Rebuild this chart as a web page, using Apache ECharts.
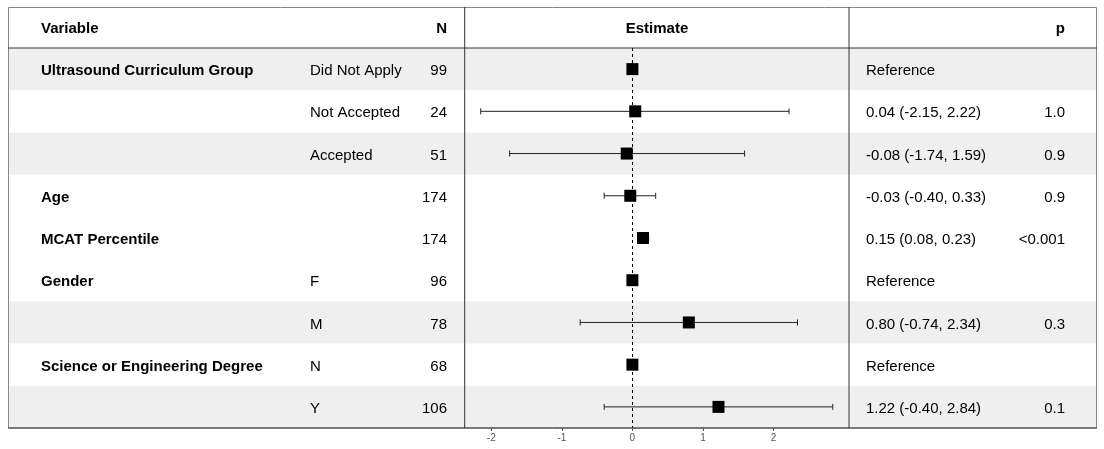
<!DOCTYPE html>
<html>
<head>
<meta charset="utf-8">
<script src="https://cdn.jsdelivr.net/npm/echarts@6/dist/echarts.min.js"></script>
<style>html,body{margin:0;padding:0;background:#fff}#c{width:1104px;height:449px}</style>
</head>
<body>
<div id="c"></div>
<script>
// table data
const variables = ['Ultrasound Curriculum Group', '', '', 'Age', 'MCAT Percentile', 'Gender', '', 'Science or Engineering Degree', '']
const levels = ['Did Not Apply', 'Not Accepted', 'Accepted', '', '', 'F', 'M', 'N', 'Y']
const counts = [99, 24, 51, 174, 174, 96, 78, 68, 106]
const estimates = [0, 0.04, -0.08, -0.03, 0.15, 0, 0.80, 0, 1.22]
const lows = [null, -2.15, -1.74, -0.40, 0.08, null, -0.74, null, -0.40]
const highs = [null, 2.22, 1.59, 0.33, 0.23, null, 2.34, null, 2.84]
const estText = ['Reference', '0.04 (-2.15, 2.22)', '-0.08 (-1.74, 1.59)', '-0.03 (-0.40, 0.33)', '0.15 (0.08, 0.23)', 'Reference', '0.80 (-0.74, 2.34)', 'Reference', '1.22 (-0.40, 2.84)']
const pvals = ['', '1.0', '0.9', '0.9', '<0.001', '', '0.3', '', '0.1']
const striped = [1, 0, 1, 0, 0, 0, 1, 0, 1]
const tickValues = [-2, -1, 0, 1, 2]

const rows = counts.map((_, i) => i)
const W = 1089
const font = 'Arial, "Liberation Sans", sans-serif'

function textSeries(xPos, texts, side, bold) {
  return {
    type: 'scatter', xAxisIndex: 1, yAxisIndex: 1, symbolSize: 0, silent: true, z: 5,
    itemStyle: { opacity: 1 },
    data: texts.map((t, i) => ({ value: [xPos, i], name: String(t) })),
    label: {
      show: true, position: side, distance: 0, offset: [0, 2], formatter: p => p.name,
      color: '#000', opacity: 1, fontSize: 15, fontFamily: font, fontWeight: bold ? 'bold' : 'normal'
    }
  }
}

const chart = echarts.init(document.getElementById('c'))
chart.setOption({
  animation: false,
  grid: [
    { left: 464.7, width: 384.3, top: 48, bottom: 21 },
    { left: 8, right: 7, top: 48, bottom: 21 }
  ],
  xAxis: [
    {
      type: 'value', gridIndex: 0, min: -2.377, max: 3.07,
      splitLine: { show: false },
      axisLine: { show: false },
      axisTick: { show: true, customValues: tickValues, length: 3, lineStyle: { color: '#555' } },
      axisLabel: { customValues: tickValues, fontSize: 10, color: '#555', fontFamily: font, margin: 5 }
    },
    { type: 'value', gridIndex: 1, min: 0, max: W, show: false }
  ],
  yAxis: [
    { type: 'category', gridIndex: 0, data: rows, inverse: true, show: false },
    { type: 'category', gridIndex: 1, data: rows, inverse: true, show: false }
  ],
  series: [
    {
      type: 'bar', xAxisIndex: 1, yAxisIndex: 1, barWidth: '100%', silent: true, z: 0,
      data: rows.map(i => ({ value: W, itemStyle: { color: striped[i] ? '#efefef' : 'rgba(0,0,0,0)' } }))
    },
    {
      type: 'custom', xAxisIndex: 0, yAxisIndex: 0, z: 3,
      data: rows.filter(i => lows[i] !== null).map(i => [lows[i], highs[i], i]),
      renderItem: (params, api) => {
        const a = api.coord([api.value(0), api.value(2)])
        const b = api.coord([api.value(1), api.value(2)])
        const st = { stroke: '#222', lineWidth: 1 }
        return {
          type: 'group', children: [
            { type: 'line', shape: { x1: a[0], y1: a[1], x2: b[0], y2: b[1] }, style: st },
            { type: 'line', shape: { x1: a[0], y1: a[1] - 3, x2: a[0], y2: a[1] + 3 }, style: st },
            { type: 'line', shape: { x1: b[0], y1: b[1] - 3, x2: b[0], y2: b[1] + 3 }, style: st }
          ]
        }
      }
    },
    {
      type: 'scatter', xAxisIndex: 0, yAxisIndex: 0, symbol: 'rect', symbolSize: 12, z: 4,
      itemStyle: { color: '#000', opacity: 1 },
      data: rows.map(i => [estimates[i], i]),
      markLine: {
        silent: true, symbol: 'none', label: { show: false },
        lineStyle: { color: '#000', type: [3, 3], width: 1, opacity: 1 },
        data: [{ xAxis: 0 }]
      }
    },
    textSeries(41 - 8, variables, 'right', true),
    textSeries(310 - 8, levels, 'right', false),
    textSeries(447 - 8, counts, 'left', false),
    textSeries(866 - 8, estText, 'right', false),
    textSeries(1065 - 8, pvals, 'left', false)
  ],
  graphic: [
    { type: 'rect', shape: { x: 8.5, y: 7.5, width: 1088, height: 420.5 }, style: { fill: 'none', stroke: '#888', lineWidth: 1 }, z: 10 },
    { type: 'line', shape: { x1: 8, y1: 48, x2: 1097, y2: 48 }, style: { stroke: '#333', lineWidth: 1 }, z: 10 },
    { type: 'line', shape: { x1: 464.7, y1: 7, x2: 464.7, y2: 428 }, style: { stroke: '#333', lineWidth: 1 }, z: 10 },
    { type: 'line', shape: { x1: 849, y1: 7, x2: 849, y2: 428 }, style: { stroke: '#333', lineWidth: 1 }, z: 10 },
    { type: 'line', shape: { x1: 8, y1: 428, x2: 1097, y2: 428 }, style: { stroke: '#333', lineWidth: 1 }, z: 10 },
    { type: 'text', x: 41, y: 29, style: { text: 'Variable', font: 'bold 15px ' + font, fill: '#000', textVerticalAlign: 'middle' } },
    { type: 'text', x: 447, y: 29, style: { text: 'N', font: 'bold 15px ' + font, fill: '#000', textAlign: 'right', textVerticalAlign: 'middle' } },
    { type: 'text', x: 657, y: 29, style: { text: 'Estimate', font: 'bold 15px ' + font, fill: '#000', textAlign: 'center', textVerticalAlign: 'middle' } },
    { type: 'text', x: 1065, y: 29, style: { text: 'p', font: 'bold 15px ' + font, fill: '#000', textAlign: 'right', textVerticalAlign: 'middle' } }
  ]
})
</script>
</body>
</html>
